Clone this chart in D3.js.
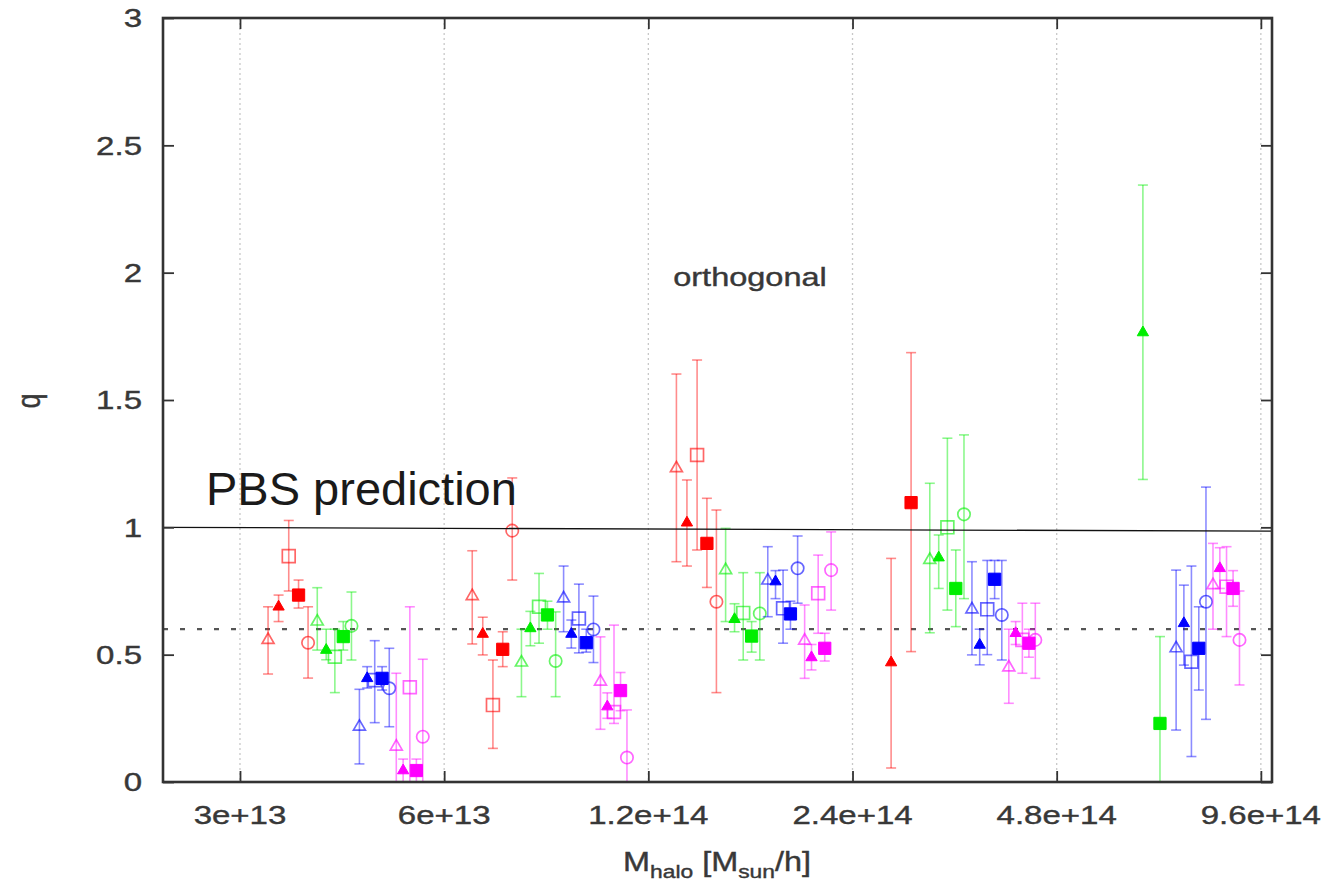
<!DOCTYPE html>
<html>
<head>
<meta charset="utf-8">
<script src="https://cdn.jsdelivr.net/npm/d3@7"></script>
<style>
  html, body { margin: 0; padding: 0; background: #fff; }
  svg { display: block; }
  text { font-family: "Liberation Sans", Arial, Helvetica, sans-serif; }
</style>
</head>
<body>
<svg id="chart" width="1327" height="885"></svg>
<script>
// ---------------- data ----------------
const xTickValues = [3e13, 6e13, 1.2e14, 2.4e14, 4.8e14, 9.6e14];
const xTickLabels = ["3e+13", "6e+13", "1.2e+14", "2.4e+14", "4.8e+14", "9.6e+14"];
const yTickValues = [0, 0.5, 1, 1.5, 2, 2.5, 3];
const yTickLabels = ["0", "0.5", "1", "1.5", "2", "2.5", "3"];
const xDomain = [2.31e13, 9.97e14];
const yDomain = [0, 3];
const pbsLine = [1.0, 0.985];      // q at left / right edge of plot
const refLevel = 0.6;              // dotted reference line

// rows: [mass, q, qLow, qHigh, marker]
// markers: ot = open triangle, ft = filled triangle, os = open square, fs = filled square, oc = open circle
const redPoints = [
  [3.30e13, 0.558, 0.424, 0.688, "ot"],
  [3.42e13, 0.688, 0.630, 0.734, "ft"],
  [3.54e13, 0.887, 0.750, 1.027, "os"],
  [3.66e13, 0.734, 0.683, 0.793, "fs"],
  [3.78e13, 0.547, 0.408, 0.688, "oc"],
  [6.60e13, 0.730, 0.542, 0.908, "ot"],
  [6.84e13, 0.581, 0.499, 0.647, "ft"],
  [7.08e13, 0.302, 0.132, 0.479, "os"],
  [7.32e13, 0.521, 0.453, 0.590, "fs"],
  [7.56e13, 0.987, 0.793, 1.194, "oc"],
  [1.320e14, 1.232, 0.865, 1.602, "ot"],
  [1.368e14, 1.018, 0.848, 1.186, "ft"],
  [1.416e14, 1.284, 0.911, 1.657, "os"],
  [1.464e14, 0.937, 0.764, 1.114, "fs"],
  [1.512e14, 0.708, 0.351, 1.068, "oc"],
  [2.736e14, 0.469, 0.055, 0.878, "ft"],
  [2.928e14, 1.097, 0.512, 1.686, "fs"]
];
const greenPoints = [
  [3.90e13, 0.630, 0.518, 0.763, "ot"],
  [4.02e13, 0.518, 0.480, 0.600, "ft"],
  [4.14e13, 0.492, 0.351, 0.600, "os"],
  [4.26e13, 0.571, 0.518, 0.630, "fs"],
  [4.38e13, 0.613, 0.479, 0.746, "oc"],
  [7.80e13, 0.469, 0.335, 0.600, "ot"],
  [8.04e13, 0.603, 0.535, 0.670, "ft"],
  [8.28e13, 0.688, 0.545, 0.819, "os"],
  [8.52e13, 0.656, 0.600, 0.710, "fs"],
  [8.76e13, 0.475, 0.335, 0.668, "oc"],
  [1.560e14, 0.832, 0.630, 0.996, "ot"],
  [1.608e14, 0.639, 0.590, 0.700, "ft"],
  [1.656e14, 0.664, 0.479, 0.822, "os"],
  [1.704e14, 0.573, 0.510, 0.630, "fs"],
  [1.752e14, 0.662, 0.479, 0.822, "oc"],
  [3.120e14, 0.872, 0.586, 1.173, "ot"],
  [3.216e14, 0.881, 0.760, 0.970, "ft"],
  [3.312e14, 1.000, 0.675, 1.350, "os"],
  [3.408e14, 0.760, 0.610, 0.911, "fs"],
  [3.504e14, 1.051, 0.720, 1.363, "oc"],
  [6.432e14, 1.765, 1.188, 2.344, "ft"],
  [6.816e14, 0.230, -0.100, 0.571, "fs"]
];
const bluePoints = [
  [4.50e13, 0.217, 0.071, 0.364, "ot"],
  [4.62e13, 0.407, 0.369, 0.453, "ft"],
  [4.74e13, 0.400, 0.233, 0.555, "os"],
  [4.86e13, 0.407, 0.361, 0.453, "fs"],
  [4.98e13, 0.368, 0.217, 0.525, "oc"],
  [9.00e13, 0.721, 0.590, 0.848, "ot"],
  [9.24e13, 0.581, 0.526, 0.636, "ft"],
  [9.48e13, 0.642, 0.507, 0.777, "os"],
  [9.72e13, 0.547, 0.510, 0.600, "fs"],
  [9.96e13, 0.599, 0.469, 0.730, "oc"],
  [1.800e14, 0.791, 0.649, 0.924, "ot"],
  [1.848e14, 0.787, 0.720, 0.830, "ft"],
  [1.896e14, 0.682, 0.545, 0.832, "os"],
  [1.944e14, 0.660, 0.600, 0.710, "fs"],
  [1.992e14, 0.839, 0.702, 0.966, "oc"],
  [3.600e14, 0.678, 0.499, 0.865, "ot"],
  [3.696e14, 0.538, 0.460, 0.600, "ft"],
  [3.792e14, 0.678, 0.500, 0.870, "os"],
  [3.888e14, 0.796, 0.720, 0.870, "fs"],
  [3.984e14, 0.656, 0.479, 0.870, "oc"],
  [7.200e14, 0.525, 0.204, 0.832, "ot"],
  [7.392e14, 0.623, 0.459, 0.773, "ft"],
  [7.584e14, 0.472, 0.100, 0.848, "os"],
  [7.776e14, 0.525, 0.361, 0.688, "fs"],
  [7.968e14, 0.708, 0.246, 1.158, "oc"]
];
const magentaPoints = [
  [5.10e13, 0.139, -0.100, 0.427, "ot"],
  [5.22e13, 0.045, -0.100, 0.090, "ft"],
  [5.34e13, 0.372, -0.100, 0.688, "os"],
  [5.46e13, 0.045, -0.100, 0.090, "fs"],
  [5.58e13, 0.178, -0.100, 0.482, "oc"],
  [1.020e14, 0.394, 0.207, 0.570, "ot"],
  [1.044e14, 0.296, 0.250, 0.350, "ft"],
  [1.068e14, 0.275, 0.230, 0.616, "os"],
  [1.092e14, 0.359, 0.280, 0.430, "fs"],
  [1.116e14, 0.096, -0.100, 0.283, "oc"],
  [2.040e14, 0.555, 0.407, 0.695, "ot"],
  [2.088e14, 0.489, 0.440, 0.540, "ft"],
  [2.136e14, 0.741, 0.584, 0.891, "os"],
  [2.184e14, 0.525, 0.475, 0.584, "fs"],
  [2.232e14, 0.832, 0.675, 0.982, "oc"],
  [4.080e14, 0.450, 0.309, 0.600, "ot"],
  [4.176e14, 0.584, 0.540, 0.630, "ft"],
  [4.272e14, 0.558, 0.427, 0.702, "os"],
  [4.368e14, 0.545, 0.490, 0.600, "fs"],
  [4.464e14, 0.558, 0.407, 0.702, "oc"],
  [8.160e14, 0.773, 0.600, 0.937, "ot"],
  [8.352e14, 0.839, 0.760, 0.920, "ft"],
  [8.544e14, 0.767, 0.571, 0.924, "os"],
  [8.736e14, 0.760, 0.690, 0.830, "fs"],
  [8.928e14, 0.558, 0.381, 0.750, "oc"]
];
const seriesColors = ["#ff0000", "#00ee00", "#0000ff", "#ff00ff"];
const allSeries = [redPoints, greenPoints, bluePoints, magentaPoints];

// ---------------- chart ----------------
const svg = d3.select("#chart");
const pLeft = 163, pRight = 1272, pTop = 18, pBottom = 782;
const textColor = "#383838";
const stretch = 1.27;

const x = d3.scaleLog().domain(xDomain).range([pLeft, pRight]);
const y = d3.scaleLinear().domain(yDomain).range([pBottom, pTop]);

svg.append("defs").append("clipPath").attr("id", "plotclip")
  .append("rect").attr("x", pLeft).attr("y", pTop)
  .attr("width", pRight - pLeft).attr("height", pBottom - pTop);

// vertical dotted grid
svg.append("g").selectAll("line").data(xTickValues).join("line")
  .attr("x1", d => x(d)).attr("x2", d => x(d))
  .attr("y1", pTop).attr("y2", pBottom)
  .attr("stroke", "#c8c8c8").attr("stroke-width", 1.3)
  .attr("stroke-dasharray", "2,3");

// dotted reference line at 0.6
svg.append("line")
  .attr("x1", pLeft).attr("x2", pRight)
  .attr("y1", y(refLevel)).attr("y2", y(refLevel))
  .attr("stroke", "#555").attr("stroke-width", 2.2)
  .attr("stroke-dasharray", "5,12");

// data
const plot = svg.append("g").attr("clip-path", "url(#plotclip)");
const capW = 5;
const sym = {
  ot: d3.symbol().type(d3.symbolTriangle).size(62),
  ft: d3.symbol().type(d3.symbolTriangle).size(55),
  os: d3.symbol().type(d3.symbolSquare).size(165),
  fs: d3.symbol().type(d3.symbolSquare).size(150),
  oc: d3.symbol().type(d3.symbolCircle).size(120)
};

allSeries.forEach((pts, si) => {
  const col = seriesColors[si];
  const g = plot.append("g");
  const eb = g.append("g").attr("stroke", col).attr("stroke-opacity", 0.45).attr("stroke-width", 1.6).attr("fill", "none");
  pts.forEach(p => {
    const cx = x(p[0]);
    eb.append("line").attr("x1", cx).attr("x2", cx).attr("y1", y(p[2])).attr("y2", y(p[3]));
    eb.append("line").attr("x1", cx - capW).attr("x2", cx + capW).attr("y1", y(p[2])).attr("y2", y(p[2]));
    eb.append("line").attr("x1", cx - capW).attr("x2", cx + capW).attr("y1", y(p[3])).attr("y2", y(p[3]));
  });
  pts.forEach(p => {
    const filled = p[4] === "ft" || p[4] === "fs";
    g.append("path")
      .attr("d", sym[p[4]]())
      .attr("transform", `translate(${x(p[0])},${y(p[1])})`)
      .attr("fill", filled ? col : "none")
      .attr("stroke", col)
      .attr("stroke-opacity", filled ? 1 : 0.6)
      .attr("stroke-width", filled ? 1 : 1.7);
  });
});

// PBS prediction line
svg.append("line")
  .attr("x1", pLeft).attr("x2", pRight)
  .attr("y1", y(pbsLine[0])).attr("y2", y(pbsLine[1]))
  .attr("stroke", "#111").attr("stroke-width", 1.3);

// frame
svg.append("rect").attr("x", pLeft).attr("y", pTop)
  .attr("width", pRight - pLeft).attr("height", pBottom - pTop)
  .attr("fill", "none").attr("stroke", "#333").attr("stroke-width", 2.6);

// tick marks (inward, all four sides)
function styleTicks(g) {
  g.select(".domain").remove();
  g.selectAll("line").attr("stroke", "#333").attr("stroke-width", 1.8);
  g.selectAll("text").remove();
}
svg.append("g").attr("transform", `translate(${pLeft},0)`)
  .call(d3.axisLeft(y).tickValues(yTickValues).tickSizeInner(-11).tickSizeOuter(0)).call(styleTicks);
svg.append("g").attr("transform", `translate(${pRight},0)`)
  .call(d3.axisRight(y).tickValues(yTickValues).tickSizeInner(-11).tickSizeOuter(0)).call(styleTicks);
svg.append("g").attr("transform", `translate(0,${pBottom})`)
  .call(d3.axisBottom(x).tickValues(xTickValues).tickSizeInner(-11).tickSizeOuter(0)).call(styleTicks);
svg.append("g").attr("transform", `translate(0,${pTop})`)
  .call(d3.axisTop(x).tickValues(xTickValues).tickSizeInner(-11).tickSizeOuter(0)).call(styleTicks);

// tick labels (gnuplot-style wide font)
svg.append("g").selectAll("text").data(yTickValues).join("text")
  .attr("transform", d => `translate(${pLeft - 21},${y(d)}) scale(${stretch},1)`)
  .attr("dy", "0.36em").attr("text-anchor", "end")
  .attr("font-size", 26).attr("fill", textColor)
  .attr("stroke", textColor).attr("stroke-width", 0.4)
  .text((d, i) => yTickLabels[i]);

svg.append("g").selectAll("text").data(xTickValues).join("text")
  .attr("transform", d => `translate(${x(d)},${pBottom + 42}) scale(${stretch},1)`)
  .attr("text-anchor", "middle")
  .attr("font-size", 26).attr("fill", textColor)
  .attr("stroke", textColor).attr("stroke-width", 0.4)
  .text((d, i) => xTickLabels[i]);

// axis labels
const xl = svg.append("text").attr("transform", `translate(717,871) scale(1.2,1)`)
  .attr("text-anchor", "middle").attr("font-size", 27).attr("fill", textColor)
  .attr("stroke", textColor).attr("stroke-width", 0.4);
xl.append("tspan").text("M");
xl.append("tspan").attr("font-size", 19).attr("dy", 7).text("halo");
xl.append("tspan").attr("dy", -7).text(" [M");
xl.append("tspan").attr("font-size", 19).attr("dy", 7).text("sun");
xl.append("tspan").attr("dy", -7).text("/h]");

svg.append("text").attr("transform", "translate(40,401) rotate(-90) scale(1,1.2)")
  .attr("text-anchor", "middle").attr("font-size", 27).attr("fill", textColor)
  .attr("stroke", textColor).attr("stroke-width", 0.4).text("q");

// annotations
svg.append("text").attr("transform", `translate(750,286) scale(1.25,1)`).attr("text-anchor", "middle")
  .attr("font-size", 26).attr("fill", textColor)
  .attr("stroke", textColor).attr("stroke-width", 0.4).text("orthogonal");

svg.append("text").attr("x", 206).attr("y", 505)
  .attr("font-size", 47).attr("fill", "#1a1a1a").text("PBS prediction");
</script>
</body>
</html>
